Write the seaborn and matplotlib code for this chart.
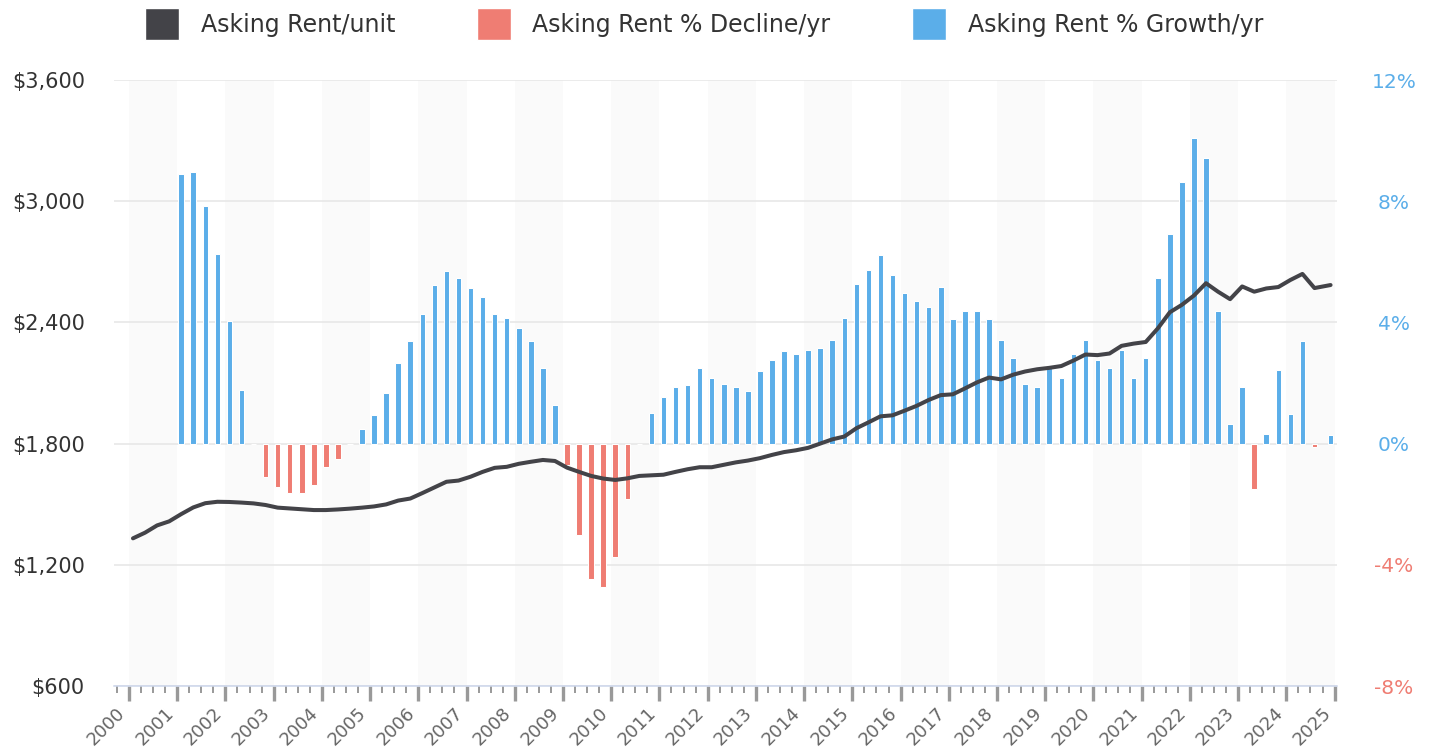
import numpy as np
import pandas as pd
import matplotlib
matplotlib.use("Agg")
import matplotlib.pyplot as plt
import seaborn as sns
from matplotlib.patches import Patch
from matplotlib.ticker import MultipleLocator

# ---------------- data ----------------
# quarterly observation dates (Feb/May/Aug/Nov) plus the latest partial point
quarter_dates = list(pd.date_range("2000-02-01", "2024-08-01", freq="3MS")) + [pd.Timestamp("2024-12-01")]

asking_rent = [1331, 1359, 1395, 1415, 1451, 1484, 1505, 1512, 1511, 1508,
               1504, 1496, 1483, 1479, 1475, 1471, 1471, 1474, 1478, 1483,
               1489, 1499, 1518, 1528, 1555, 1583, 1611, 1617, 1636, 1660,
               1680, 1685, 1700, 1710, 1719, 1714, 1681, 1660, 1640, 1627,
               1620, 1628, 1640, 1643, 1646, 1660, 1673, 1683, 1683, 1695,
               1707, 1716, 1728, 1744, 1758, 1767, 1779, 1800, 1821, 1835,
               1876, 1905, 1935, 1940, 1963, 1987, 2016, 2040, 2044, 2073,
               2103, 2127, 2118, 2141, 2157, 2168, 2175, 2184, 2211, 2241,
               2238, 2246, 2284, 2295, 2303, 2370, 2450, 2487, 2533, 2594,
               2552, 2515, 2578, 2552, 2568, 2575, 2610, 2640, 2570, 2585]

# year-over-year change, starting with the 2001 Q1 observation
rent_change_pct = [8.91, 8.98, 7.85, 6.27, 4.03, 1.78, 0.0, -1.11, -1.44, -1.64,
                   -1.64, -1.37, -0.76, -0.51, 0.0, 0.47, 0.93, 1.66, 2.65, 3.37,
                   4.29, 5.22, 5.68, 5.48, 5.15, 4.83, 4.29, 4.16, 3.83, 3.37,
                   2.51, 1.26, -0.69, -3.03, -4.48, -4.74, -3.75, -1.84, 0.0, 1.00,
                   1.53, 1.86, 1.92, 2.51, 2.18, 1.98, 1.86, 1.72, 2.38, 2.77,
                   3.04, 2.97, 3.10, 3.17, 3.43, 4.16, 5.28, 5.74, 6.21, 5.55,
                   4.96, 4.70, 4.50, 5.16, 4.10, 4.36, 4.36, 4.10, 3.43, 2.84,
                   1.98, 1.86, 2.51, 2.18, 2.97, 3.43, 2.77, 2.51, 3.10, 2.18,
                   2.84, 5.48, 6.93, 8.65, 10.1, 9.44, 4.36, 0.66, 1.86, -1.50,
                   0.33, 2.44, 0.99, 3.37, -0.10, 0.27]

year_ticks = list(range(2000, 2026))
rent_ticks = [600, 1200, 1800, 2400, 3000, 3600]
rent_tick_labels = ["$600", "$1,200", "$1,800", "$2,400", "$3,000", "$3,600"]
pct_ticks = [-8, -4, 0, 4, 8, 12]
pct_tick_labels = ["-8%", "-4%", "0%", "4%", "8%", "12%"]

series_names = ["Asking Rent/unit", "Asking Rent % Decline/yr", "Asking Rent % Growth/yr"]

# ---------------- styles ----------------
C_LINE = "#434348"
C_RED = "#ef7d73"
C_BLUE = "#5baee9"

sns.set_theme(style="white")
plt.rcParams["font.family"] = ["DejaVu Sans"]

W, H = 1431, 753
fig = plt.figure(figsize=(W / 100, H / 100), dpi=100)
L, R, T, B = 114, 1337, 80, 686
ax_bar = fig.add_axes([L / W, 1 - B / H, (R - L) / W, (B - T) / H])
ax_line = ax_bar.twinx()

xfrac = [d.year + (d.month - 1) / 12 for d in quarter_dates]
line_df = pd.DataFrame({"x": xfrac, "rent": asking_rent})
bar_df = pd.DataFrame({"x": xfrac[4:], "pct": rent_change_pct})
bar_df["series"] = np.where(bar_df["pct"] < 0, series_names[1], series_names[2])

# alternating year bands
for y in range(2000, 2025, 2):
    ax_bar.axvspan(y, y + 1, color="#fafafa", lw=0, zorder=0.1)

sns.barplot(data=bar_df, x="x", y="pct", hue="series", native_scale=True, dodge=False,
            width=0.46, saturation=1, palette={series_names[1]: C_RED, series_names[2]: C_BLUE},
            edgecolor="white", linewidth=0.75, errorbar=None, legend=False, ax=ax_bar)

sns.lineplot(data=line_df, x="x", y="rent", color=C_LINE, linewidth=2.9, ax=ax_line)
for ln in ax_line.get_lines():
    ln.set_solid_joinstyle("round")
    ln.set_solid_capstyle("round")

# axes ranges
ax_bar.set_xlim(1999.69, 2025.05)
ax_bar.set_ylim(-8, 12)
ax_line.set_ylim(600, 3600)

# grid
ax_bar.set_axisbelow(True)
ax_bar.yaxis.grid(True, color="#e6e6e6", lw=1.1)
ax_bar.xaxis.grid(False)
ax_line.grid(False)

for a in (ax_bar, ax_line):
    for s in a.spines.values():
        s.set_visible(False)
ax_bar.spines["bottom"].set_visible(True)
ax_bar.spines["bottom"].set_color("#ccd6eb")
ax_bar.spines["bottom"].set_linewidth(1.1)

# x axis
ax_bar.set_xticks(year_ticks)
ax_bar.set_xticklabels([str(y) for y in year_ticks], rotation=45, ha="right", va="top",
                       color="#666666", fontsize=13)
ax_bar.xaxis.set_minor_locator(MultipleLocator(0.25))
ax_bar.tick_params(axis="x", which="major", bottom=True, length=10.8, width=2.4,
                   color="#999999", direction="out", pad=2)
ax_bar.tick_params(axis="x", which="minor", bottom=True, length=5, width=1.4,
                   color="#999999", direction="out")
ax_bar.set_xlabel("")

# right axis (percent)
ax_bar.yaxis.tick_right()
ax_bar.set_yticks(pct_ticks)
ax_bar.set_yticklabels(pct_tick_labels)
ax_bar.tick_params(axis="y", length=0, pad=41, labelsize=14.5)
for tick, v in zip(ax_bar.yaxis.get_major_ticks(), pct_ticks):
    for lab in (tick.label1, tick.label2):
        lab.set_color(C_RED if v < 0 else C_BLUE)
        lab.set_ha("center")
ax_bar.set_ylabel("")

# left axis (rent)
ax_line.yaxis.tick_left()
ax_line.set_yticks(rent_ticks)
ax_line.set_yticklabels(rent_tick_labels)
ax_line.tick_params(axis="y", length=0, pad=21, labelsize=15, labelcolor="#333333")
ax_line.set_ylabel("")
ax_line.set_xlabel("")

# legend
handles = [Patch(facecolor=C_LINE), Patch(facecolor=C_RED), Patch(facecolor=C_BLUE)]
fig.legend(handles=handles, labels=series_names, loc="center",
           bbox_to_anchor=(704 / W, 1 - 24 / H), ncol=3, frameon=False, fontsize=17,
           handlelength=1.44, handleheight=1.71, handletextpad=0.93, columnspacing=3.45,
           labelcolor="#333333", borderaxespad=0, borderpad=0)

fig.savefig("out.png", dpi=100)
